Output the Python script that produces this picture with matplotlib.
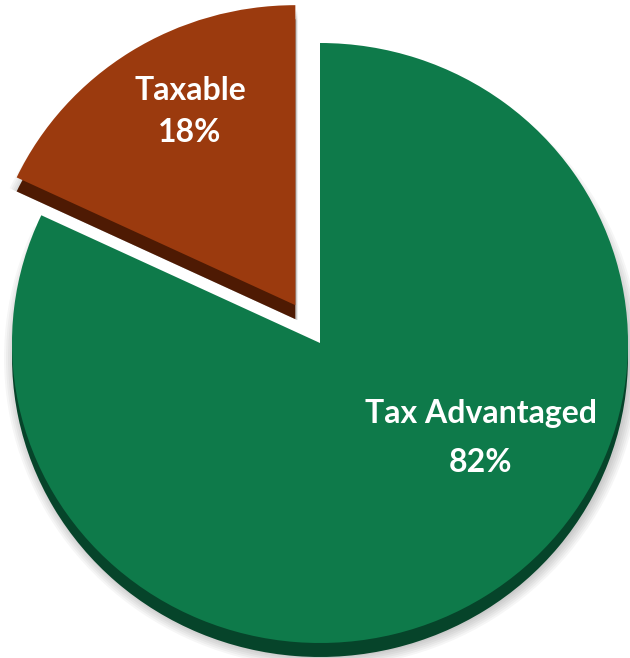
import matplotlib.pyplot as plt

labels = ['Tax Advantaged', 'Taxable']
shares = [82, 18]
pct_text = ['82%', '18%']
top_colors = ['#0e7a4a', '#9b3a0e']
side_colors = ['#06442a', '#4e1a03']

W, H = 630, 658
sy = 308 / 300          # pie is a bit wider than tall
cx, cy_img, r = 320, 343, 308
pull = [0, 46]          # explode offset, in pixels
depth = 14


def ypos(y_img):
    return (H - y_img) * sy


fig = plt.figure(figsize=(W / 100, H / 100), dpi=100)
ax = fig.add_axes([0, 0, 1, 1])

# soft grey shadow behind the pieces
for k in range(6):
    ax.pie(shares, explode=pull, startangle=90, counterclock=False,
           radius=r + 2 * k, center=(cx + 2, ypos(cy_img + depth + 1)),
           colors=['#000000', '#000000'],
           wedgeprops=dict(alpha=0.035, linewidth=0))

# side (thickness) of the pie
ax.pie(shares, explode=pull, startangle=90, counterclock=False,
       radius=r, center=(cx, ypos(cy_img + depth)), colors=side_colors,
       wedgeprops=dict(linewidth=0))

# top face
ax.pie(shares, explode=pull, startangle=90, counterclock=False,
       radius=r, center=(cx, ypos(cy_img)), colors=top_colors,
       wedgeprops=dict(linewidth=0))

font = dict(family=['Lato', 'DejaVu Sans'], weight='bold', size=23,
            color='white', ha='center', va='center')
ax.text(481, ypos(413), labels[0], **font)
ax.text(481, ypos(462), pct_text[0], **font)
ax.text(190, ypos(90), labels[1], **font)
ax.text(190, ypos(133), pct_text[1], **font)

ax.set_aspect('auto')
ax.set_xlim(0, W)
ax.set_ylim(0, H * sy)
ax.axis('off')
fig.savefig('out.png', dpi=100)
